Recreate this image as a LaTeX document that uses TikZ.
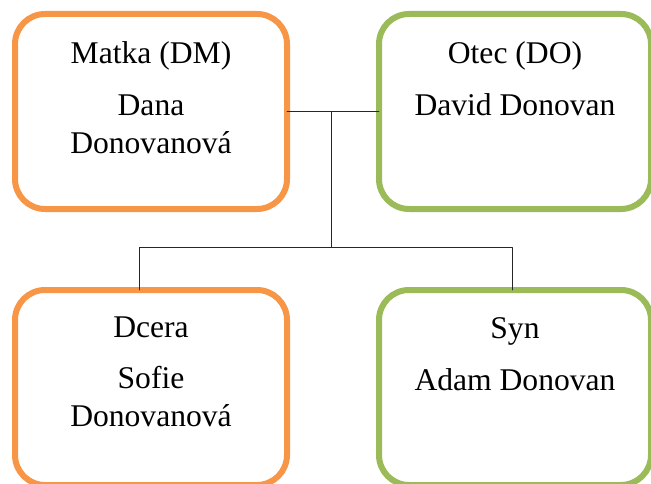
\documentclass[tikz,border=0pt]{standalone}
\usepackage{fontspec}
\setmainfont{Liberation Serif}
\usepackage{xcolor}
\usetikzlibrary{positioning,calc}

\begin{document}
\begin{tikzpicture}[x=1pt,y=1pt,line cap=round,line join=round]
	\definecolor{famorange}{HTML}{F79646}
	\definecolor{famgreen}{HTML}{9BBB59}
	\tikzset{
		person/.style={draw,line width=6pt,rounded corners=30pt,minimum width=272pt,minimum height=195pt,outer sep=0pt,inner sep=0pt},
		who/.style={align=center,inner sep=0pt,font=\fontsize{31.6}{38}\selectfont},
		link/.style={black!85,line width=0.9pt}
	}
	
	% frame
	\useasboundingbox (0,0) rectangle (651,483);
	\clip (0,0) rectangle (651,483);
	
	% boxes
	\node[person,draw=famorange] (matka) at (151,371.5) {};
	\node[person,draw=famgreen] (otec) at (515,371.5) {};
	\node[person,draw=famorange] (dcera) at (151,95.5) {};
	\node[person,draw=famgreen] (syn) at (515,95.5) {};
	
	% texts
	\node[who,below=27pt of matka.north] (matkaT) {Matka (DM)\\[14pt]Dana\\Donovanová};
	\node[who,below=27pt of otec.north] (otecT) {Otec (DO)\\[14pt]David Donovan};
	\node[who,below=27pt of dcera.north] (dceraT) {Dcera\\[13pt]Sofie\\Donovanová};
	\node[who,below=27pt of syn.north] (synT) {Syn\\[14pt]Adam Donovan};
	
	% connectors
	\coordinate (split) at ($(matka.east)!0.48!(otec.west)$);
	\coordinate (branch) at ($(split)+(0,-136)$);
	\draw[link] (matka.east) -- (otec.west);
	\draw[link] (split) -- (branch);
	\draw[link] ([xshift=-12pt]dcera.north) |- (branch) -| ([xshift=-3pt]syn.north);
	
\end{tikzpicture}
\end{document}
